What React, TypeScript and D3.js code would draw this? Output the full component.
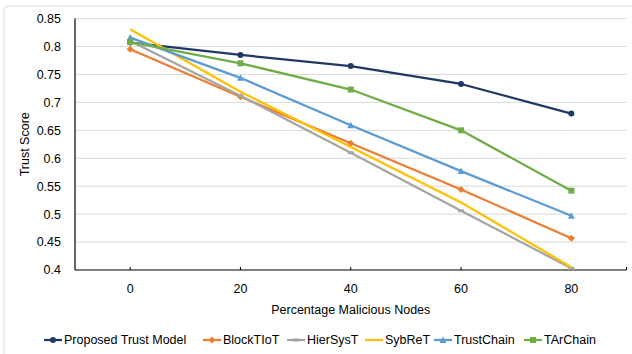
import React from "react";
import * as d3 from "d3";

const categories = ["0", "20", "40", "60", "80"];
const seriesNames = ["Proposed Trust Model", "BlockTIoT", "HierSysT", "SybReT", "TrustChain", "TArChain"];
const proposed = [0.807, 0.785, 0.765, 0.733, 0.68];
const blockTIoT = [0.795, 0.71, 0.627, 0.544, 0.457];
const hierSysT = [0.81, 0.712, 0.61, 0.506, 0.403];
const sybReT = [0.831, 0.719, 0.62, 0.521, 0.405];
const trustChain = [0.816, 0.744, 0.659, 0.577, 0.497];
const tArChain = [0.808, 0.77, 0.723, 0.65, 0.542];
const yTicks = [0.4, 0.45, 0.5, 0.55, 0.6, 0.65, 0.7, 0.75, 0.8, 0.85];

const colors = ["#203864", "#ED7D31", "#A5A5A5", "#FFC000", "#5B9BD5", "#70AD47"];
const markers = ["circle", "diamond", "dash", "none", "triangle", "square"];
const allValues = [proposed, blockTIoT, hierSysT, sybReT, trustChain, tArChain];

const W = 632, H = 354;
const left = 75, right = 626.5, top = 18.6, bottom = 270;
const FONT = "'Liberation Sans', Arial, sans-serif";

function Marker({ type, x, y, color }: { type: string; x: number; y: number; color: string }) {
  if (type === "circle") return <circle cx={x} cy={y} r={3} fill={color} />;
  if (type === "square") return <rect x={x - 3} y={y - 3} width={6} height={6} fill={color} />;
  if (type === "triangle") return <path d={`M${x},${y - 3.5}L${x + 3.5},${y + 3}L${x - 3.5},${y + 3}Z`} fill={color} />;
  if (type === "diamond") return <path d={`M${x},${y - 3.5}L${x + 3.5},${y}L${x},${y + 3.5}L${x - 3.5},${y}Z`} fill={color} />;
  if (type === "dash") return <rect x={x - 3} y={y - 1.5} width={6} height={3} fill={color} />;
  return null;
}

export default function App() {
  const x = d3.scaleBand<string>().domain(categories).range([left, right]).padding(0);
  const cx = (c: string) => (x(c) as number) + x.bandwidth() / 2;
  const y = d3.scaleLinear().domain([0.4, 0.85]).range([bottom, top]);
  const line = d3.line<number>().x((_, i) => cx(categories[i])).y((d) => y(d));

  const legendX = [44, 203, 287, 365, 434, 524];

  return (
    <svg width={W} height={H} style={{ position: "absolute", left: 0, top: 0, background: "#fff" }} fontFamily={FONT}>
      <rect x={4} y={6} width={W + 10} height={H + 10} rx={4} fill="#fff" stroke="#d9d9d9" strokeWidth={1} />
      {yTicks.slice(1).map((t) => (
        <line key={t} x1={left} x2={right} y1={y(t)} y2={y(t)} stroke="#d9d9d9" strokeWidth={1} />
      ))}
      {yTicks.map((t) => (
        <text key={"l" + t} x={61} y={y(t)} dy="0.35em" textAnchor="end" fontSize={12.5} fill="#000">
          {d3.format("")(t)}
        </text>
      ))}
      <line x1={left} x2={left} y1={top} y2={bottom} stroke="#000" strokeWidth={1.2} />
      <line x1={left} x2={right} y1={bottom} y2={bottom} stroke="#000" strokeWidth={1.2} />
      {categories.map((c) => (
        <g key={c}>
          <line x1={cx(c)} x2={cx(c)} y1={bottom} y2={bottom - 3} stroke="#000" />
          <text x={cx(c)} y={289} dy="0.35em" textAnchor="middle" fontSize={12.5}>{c}</text>
        </g>
      ))}
      <line x1={right} x2={right} y1={bottom} y2={bottom - 3} stroke="#000" />
      <text x={(left + right) / 2} y={310} dy="0.35em" textAnchor="middle" fontSize={12.5}>Percentage Malicious Nodes</text>
      <text transform={`translate(25,${(top + bottom) / 2}) rotate(-90)`} dy="0.35em" textAnchor="middle" fontSize={12.5}>Trust Score</text>
      {allValues.map((vals, si) => (
        <g key={si}>
          <path d={line(vals) as string} fill="none" stroke={colors[si]} strokeWidth={2.25} strokeLinejoin="round" />
          {vals.map((v, i) => (
            <Marker key={i} type={markers[si]} x={cx(categories[i])} y={y(v)} color={colors[si]} />
          ))}
        </g>
      ))}
      {seriesNames.map((n, si) => (
        <g key={n}>
          <line x1={legendX[si]} x2={legendX[si] + 18} y1={340} y2={340} stroke={colors[si]} strokeWidth={2.25} />
          <Marker type={markers[si]} x={legendX[si] + 9} y={340} color={colors[si]} />
          <text x={legendX[si] + 20} y={340} dy="0.35em" fontSize={12.5}>{n}</text>
        </g>
      ))}
    </svg>
  );
}
